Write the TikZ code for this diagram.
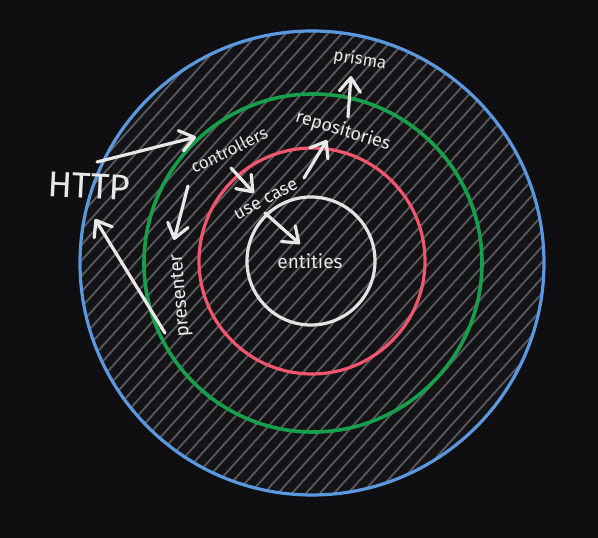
\documentclass[tikz,border=0pt]{standalone}
\usepackage{fontspec}
\setmainfont{Fira Sans}
\usetikzlibrary{arrows.meta}
\definecolor{bg}{HTML}{0F0E11}
\definecolor{disk}{HTML}{141316}
\definecolor{hatch}{HTML}{57575B}
\definecolor{cblue}{HTML}{5A98E0}
\definecolor{cgreen}{HTML}{15A04C}
\definecolor{cred}{HTML}{F2566E}
\definecolor{cwhite}{HTML}{E2E2E2}
\definecolor{ink}{HTML}{E8E8E8}
\begin{document}
\begin{tikzpicture}[x=1pt,y=-1pt,
  ring/.style={line width=3.2pt},
  lbl/.style={text=ink, inner sep=1pt},
  arr/.style={draw=ink, line width=3.2pt, line cap=round, line join=round,
    -{Straight Barb[length=14pt,width=21pt,round]}}]
\fill[bg] (0,0) rectangle (598,538);
\useasboundingbox (0,0) rectangle (598,538);
% disk and hatching
\fill[disk] (312,263) circle[radius=232];
\begin{scope}
  \clip (312,263) circle[radius=232];
  \foreach \k in {-520,-506,...,620}
    \draw[hatch, line width=1.9pt] (\k,540) -- ++(486,-540);
\end{scope}
% rings
\draw[cblue, ring]  (312,263) circle[radius=232];
\draw[cgreen, ring, line width=3.6pt] (313,263) circle[radius=169];
\draw[cred, ring]   (312,261) circle[radius=113];
\draw[cwhite, ring] (311,261) circle[radius=64];
% labels
\node[lbl, rotate=-3, font=\fontsize{36}{36}\selectfont] (http) at (89,186) {HTTP};
\node[lbl, rotate=26, font=\fontsize{17}{17}\selectfont] (ctrl) at (229,150) {controllers};
\node[lbl, rotate=95, font=\fontsize{19}{19}\selectfont] (pres) at (181,296) {presenter};
\node[lbl, rotate=-17, font=\fontsize{18}{18}\selectfont] (repo) at (343,131) {repositories};
\node[lbl, rotate=-9, font=\fontsize{17}{17}\selectfont] (prisma) at (360,60) {prisma};
\node[lbl, rotate=28, font=\fontsize{18}{18}\selectfont] (usecase) at (266,200) {use case};
\node[lbl, font=\fontsize{19}{19}\selectfont] (ent) at (310,261) {entities};
% arrow end points
\coordinate (httpOut) at (97,162);
\coordinate (ctrlIn) at (196,137);
\coordinate (presOut) at (165,333);
\coordinate (httpIn) at (95,219);
\coordinate (ctrlToPres) at (188,186);
\coordinate (presIn) at (174,240);
\coordinate (ctrlToUse) at (231,168);
\coordinate (useIn) at (254,193);
\coordinate (useToRepo) at (304,178);
\coordinate (repoIn) at (327,140);
\coordinate (repoOut) at (348,117);
\coordinate (prismaIn) at (351,76);
\coordinate (useToEnt) at (265,213);
\coordinate (entIn) at (300,244);
% arrows
\draw[arr] (httpOut) -- (ctrlIn);
\draw[arr] (presOut) -- (httpIn);
\draw[arr] (ctrlToPres) -- (presIn);
\draw[arr] (ctrlToUse) -- (useIn);
\draw[arr] (useToRepo) -- (repoIn);
\draw[arr] (repoOut) -- (prismaIn);
\draw[arr] (useToEnt) -- (entIn);
\end{tikzpicture}
\end{document}
